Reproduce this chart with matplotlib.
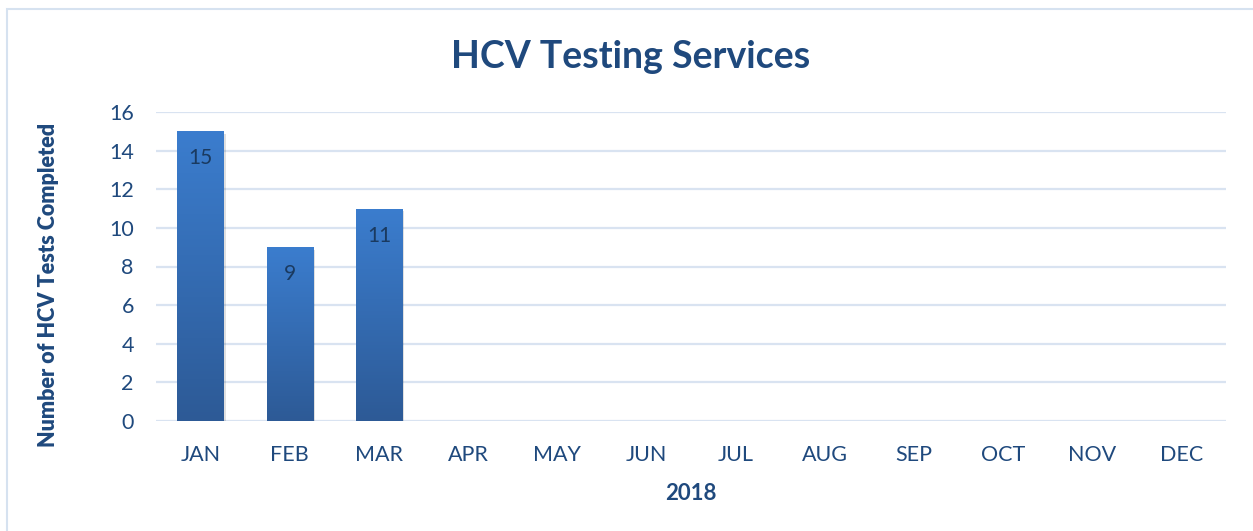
import numpy as np
import matplotlib
matplotlib.use("Agg")
import matplotlib.pyplot as plt
from matplotlib.patches import Rectangle

MONTHS = ["JAN", "FEB", "MAR", "APR", "MAY", "JUN",
          "JUL", "AUG", "SEP", "OCT", "NOV", "DEC"]
TESTS = [15, 9, 11, 0, 0, 0, 0, 0, 0, 0, 0, 0]
YTICKS = [0, 2, 4, 6, 8, 10, 12, 14, 16]

TXT = "#1F497D"
GRID = "#D9E3F1"

plt.rcParams["font.family"] = ["Lato", "DejaVu Sans"]

fig = plt.figure(figsize=(12.53, 5.31), dpi=100)
ax = fig.add_axes([156 / 1253, 1 - 421 / 531, 1070 / 1253, 309 / 531])

# outer chart frame (cropped on right and bottom)
fig.patches.append(Rectangle((7 / 1253, -0.1), 1.2, (531 - 9) / 531 + 0.1,
                             transform=fig.transFigure, fill=False,
                             edgecolor="#D6E2F0", linewidth=1.5))

x = np.arange(len(MONTHS))
bars = ax.bar(x, TESTS, width=0.52, color="none", edgecolor="none", zorder=3)

grad = np.linspace(0, 1, 256).reshape(-1, 1)
cmap = matplotlib.colors.LinearSegmentedColormap.from_list(
    "bar", ["#2D5A96", "#3B7DCE"])
for b, v in zip(bars, TESTS):
    if v <= 0:
        continue
    x0, w = b.get_x(), b.get_width()
    # soft shadow
    ax.add_patch(Rectangle((x0 + 0.02, -0.12), w, v, facecolor="#000000",
                           alpha=0.12, edgecolor="none", zorder=2))
    im = ax.imshow(grad, extent=(x0, x0 + w, 0, v), origin="lower",
                   cmap=cmap, aspect="auto", zorder=3)
    im.set_clip_path(b)
    ax.text(b.get_x() + w / 2, v - 1.4, f"{v}", ha="center", va="center",
            fontsize=15, color="#1A3A60", zorder=4)

ax.set_xlim(-0.5, len(MONTHS) - 0.5)
ax.set_ylim(0, 16)
ax.set_yticks(YTICKS)
ax.set_xticks(x)
ax.set_xticklabels(MONTHS)
ax.yaxis.grid(True, color=GRID, linewidth=1.6, zorder=0)
ax.set_axisbelow(True)
for s in ax.spines.values():
    s.set_visible(False)
ax.tick_params(length=0, labelsize=15.5, labelcolor=TXT)
ax.tick_params(axis="x", pad=17)
ax.tick_params(axis="y", pad=16)

ax.set_xlabel("2018", fontsize=16, fontweight="bold", color=TXT, labelpad=13)
ax.set_ylabel("Number of HCV Tests Completed", fontsize=15.5,
              fontweight="heavy", color=TXT)
ax.yaxis.set_label_coords((59 - 156) / 1070, (421 - 285) / 309)

fig.text(631 / 1253, 1 - 57 / 531, "HCV Testing Services", ha="center",
         va="center", fontsize=27, fontweight="bold", color=TXT)

fig.savefig("out.png", dpi=100, facecolor="white")
